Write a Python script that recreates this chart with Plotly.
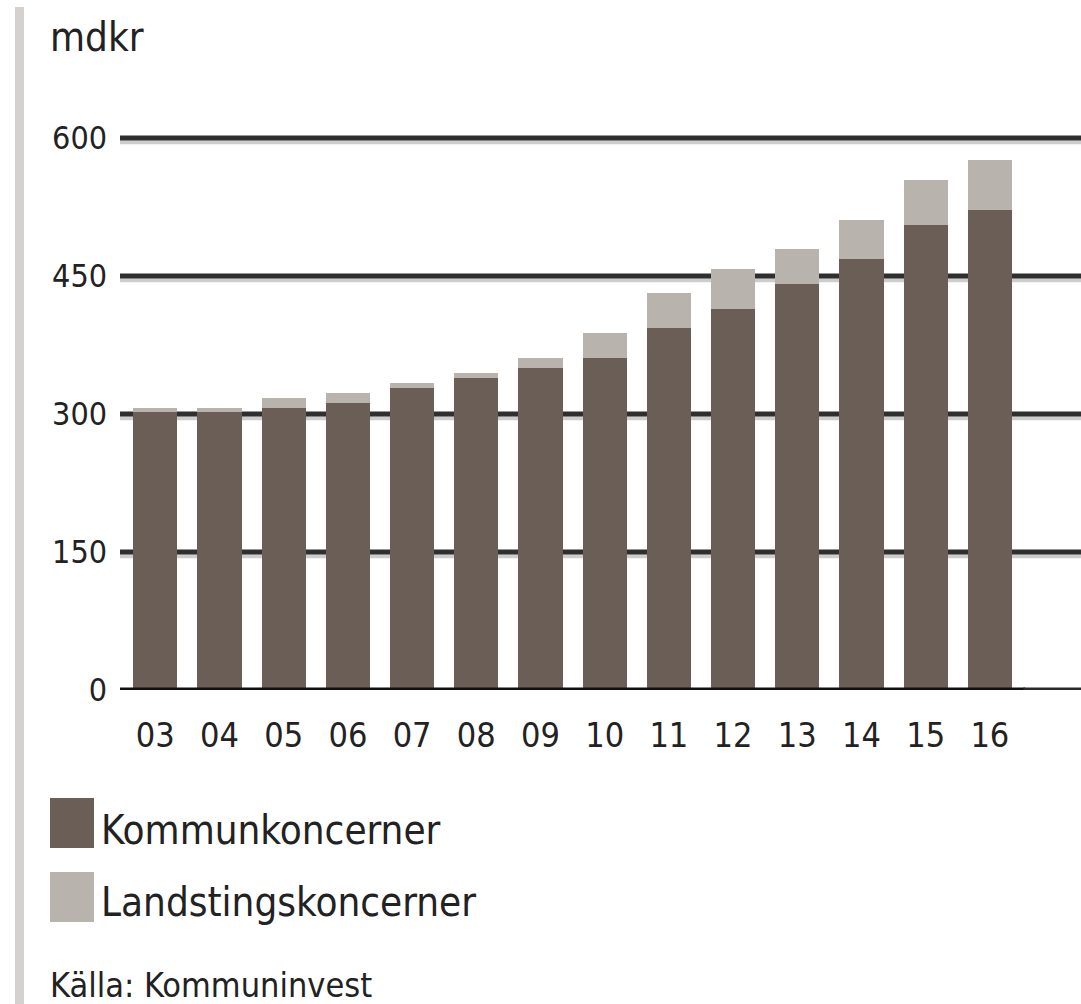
import plotly.graph_objects as go

years = ["03", "04", "05", "06", "07", "08", "09", "10", "11", "12", "13", "14", "15", "16"]
kommun = [302, 302, 306, 312, 328, 339, 350, 361, 394, 414, 441, 469, 505, 522]
landsting = [5, 5, 11, 11, 6, 6, 11, 27, 37, 44, 38, 42, 49, 54]
yticks = [0, 150, 300, 450, 600]

FONT = "DejaVu Sans Condensed, Liberation Sans, Arial, sans-serif"
W, H = 1081, 1004
L, R, T, B = 120, 0, 100, 314
PX_PER_UNIT = 0.92
ymax = (H - B - T) / PX_PER_UNIT

DARK = "#6b5e56"
LIGHT = "#b8b3ad"
TXT = "#222222"

fig = go.Figure()
fig.add_trace(go.Bar(x=years, y=kommun, name="Kommunkoncerner", marker_color=DARK,
                     marker_line_width=0))
fig.add_trace(go.Bar(x=years, y=landsting, name="Landstingskoncerner", marker_color=LIGHT,
                     marker_line_width=0))

shapes = []
for v in yticks[1:]:
    shapes.append(dict(type="line", xref="paper", yref="y", x0=0, x1=1, y0=v - 4.6, y1=v - 4.6,
                       line=dict(color="#cdcdcd", width=4), layer="below"))
    shapes.append(dict(type="line", xref="paper", yref="y", x0=0, x1=1, y0=v, y1=v,
                       line=dict(color="#2f2f2f", width=5), layer="below"))
# zero line
shapes.append(dict(type="line", xref="paper", yref="y", x0=0, x1=1, y0=-4.6, y1=-4.6,
                   line=dict(color="#8a8a8a", width=4), layer="above"))
shapes.append(dict(type="line", xref="x", yref="y", x0=-0.55, x1=13.55, y0=-4.6, y1=-4.6,
                   line=dict(color="#444444", width=4), layer="above"))
shapes.append(dict(type="line", xref="x", yref="y", x0=-0.55, x1=13.55, y0=0, y1=0,
                   line=dict(color="#111111", width=5), layer="above"))
shapes.append(dict(type="line", xref="paper", yref="y", x0=0.94, x1=1, y0=0, y1=0,
                   line=dict(color="#2a2a2a", width=5), layer="above"))
px = lambda x: (x - L) / (W - L - R)
py = lambda y: (H - B - y) / (H - T - B)
shapes.append(dict(type="rect", xref="paper", yref="paper", x0=px(15), x1=px(24), y0=py(1004), y1=py(7),
                   fillcolor="#d4d1ce", line_width=0, layer="below"))
shapes.append(dict(type="rect", xref="paper", yref="paper", x0=px(50), x1=px(94), y0=py(848), y1=py(798),
                   fillcolor=DARK, line_width=0))
shapes.append(dict(type="rect", xref="paper", yref="paper", x0=px(50), x1=px(94), y0=py(922), y1=py(872),
                   fillcolor=LIGHT, line_width=0))

annotations = [
    dict(text="mdkr", xref="paper", yref="paper", x=px(48), y=py(37), xanchor="left", yanchor="middle",
         showarrow=False, font=dict(family=FONT, size=40, color=TXT)),
    dict(text="Kommunkoncerner", xref="paper", yref="paper", x=px(99), y=py(830), xanchor="left",
         yanchor="middle", showarrow=False, font=dict(family=FONT, size=40, color=TXT)),
    dict(text="Landstingskoncerner", xref="paper", yref="paper", x=px(99), y=py(902), xanchor="left",
         yanchor="middle", showarrow=False, font=dict(family=FONT, size=40, color=TXT)),
    dict(text="Källa: Kommuninvest", xref="paper", yref="paper", x=px(48), y=py(985), xanchor="left",
         yanchor="middle", showarrow=False, font=dict(family=FONT, size=34, color=TXT)),
]

fig.update_layout(
    width=W, height=H,
    margin=dict(l=L, r=R, t=T, b=B, pad=0),
    barmode="stack", bargap=0.31,
    plot_bgcolor="white", paper_bgcolor="white",
    showlegend=False,
    shapes=shapes, annotations=annotations,
    xaxis=dict(type="category", range=[-0.55, 14.42], showgrid=False, zeroline=False, showline=False,
               ticks="", ticklabelstandoff=22,
               tickfont=dict(family=FONT, size=34, color=TXT)),
    yaxis=dict(range=[0, ymax], tickvals=yticks, ticktext=[str(v) for v in yticks],
               showgrid=False, zeroline=False, showline=False, ticks="", ticklabelstandoff=12,
               tickfont=dict(family=FONT, size=32, color=TXT)),
)

fig.write_html("out.html", config={"displayModeBar": False},
               post_script="document.body.style.margin='0';document.body.style.overflow='hidden';")
